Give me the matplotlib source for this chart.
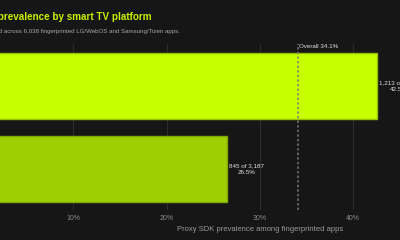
import matplotlib
matplotlib.use('Agg')
import matplotlib.pyplot as plt

platforms = ['LG/WebOS', 'Samsung/Tizen']
detected = [1213, 845]
totals = [2851, 3187]
prevalence = [42.5, 26.5]
overall = 34.1
xticks = [0, 10, 20, 30, 40, 50]

bg = '#161616'
bar_colors = ['#c6ff00', '#9ecf00']
edge_colors = ['#98c000', '#7fa800']

plt.rcParams['font.family'] = ['Liberation Sans', 'DejaVu Sans']

fig = plt.figure(figsize=(4, 2.4), dpi=100, facecolor=bg)
# the chart is a crop of a wider layout, so the axes run off both sides
ax = fig.add_axes([-0.05, 0.123, 1.4, 0.692], facecolor=bg)

ypos = list(range(len(platforms)))
ax.barh(ypos, prevalence, height=0.8, color=bar_colors,
        edgecolor=edge_colors, linewidth=1, zorder=3)

for y, d, t, p in zip(ypos, detected, totals, prevalence):
    ax.text(p + 0.2, y, '{:,} of {:,}\n{:.1f}%'.format(d, t, p),
            ha='left', va='center', multialignment='center',
            fontsize=4.5, color='#e0e0e0', linespacing=1.4, zorder=4)

ax.axvline(overall, color='#7a7a7a', linestyle=(0, (1.5, 1.5)), linewidth=1.1, zorder=4)
ax.text(overall + 0.1, -0.47, 'Overall {:.1f}%'.format(overall),
        ha='left', va='center', fontsize=4.5, color='#e0e0e0', zorder=5)

ax.set_xlim(0, 60)
ax.set_ylim(len(platforms) - 0.5, -0.5)
ax.set_xticks(xticks)
ax.set_xticklabels(['{}%'.format(v) for v in xticks])
ax.set_yticks([])
ax.tick_params(axis='x', length=0, pad=3, labelsize=5, labelcolor='#8a8a8a')
ax.grid(axis='x', color='#2c2c2c', linewidth=0.8, zorder=0)
for s in ax.spines.values():
    s.set_visible(False)
ax.set_xlabel('Proxy SDK prevalence among fingerprinted apps',
              fontsize=5.5, color='#9a9a9a', labelpad=3)

# title and subtitle are cut off at the left edge in the reference
fig.text(151 / 400, 1 - 17 / 240, 'Proxy SDK prevalence by smart TV platform',
         ha='right', va='center', fontsize=7.1, fontweight='bold', color='#c6f000')
fig.text(180 / 400, 1 - 32 / 240,
         'Proxy SDKs found across 6,038 fingerprinted LG/WebOS and Samsung/Tizen apps.',
         ha='right', va='center', fontsize=4.4, color='#a8a8a8')

fig.savefig('out.png', dpi=100, facecolor=bg)
